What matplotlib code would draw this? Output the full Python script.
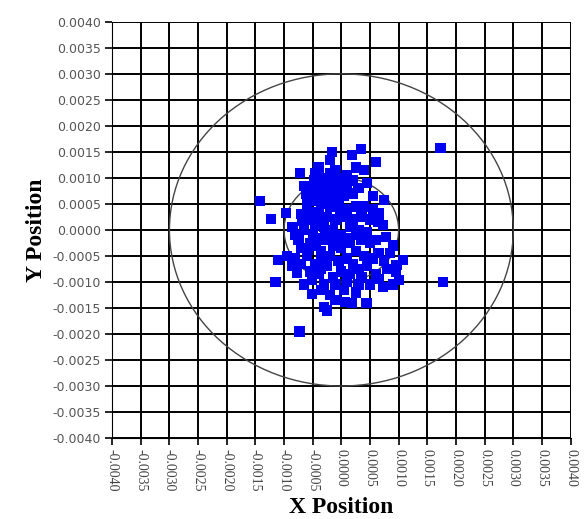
import numpy as np
import matplotlib
matplotlib.use("Agg")
import matplotlib.pyplot as plt
from matplotlib.patches import Circle

# shot positions, in units of 1e-4
x_pos = [-14.2, -12.3, -9.7, -11.1, -8.2, -7.7, -11.5, -5.1, -5.1, -3.0, -2.5, 0.6, 1.8, 4.4, -7.3,
         17.3, 17.7, 10.8, 9.6, 9.0, 10.0, 7.3, 7.8, 7.3, 6.6, 7.5, 6.0, 3.4, 1.8, -1.6,
         -2.0, -7.2, -4.6, 4.0, 9.0, 9.5, 5.0, 2.5, -1.0, -3.5, -6.5, -8.5, -9.5, -7.5, -8.5,
         -7.0, -6.0, -5.0, -3.5, -1.0, 1.0, 2.5, 4.5, 5.5, 6.5, 8.0, 6.0, 3.5, 1.0,
         -6.0, -5.0, -6.5, -5.5, -6.0, -4.5, -4.0, -2.5, -1.5, 0.0, 1.5, 3.0, 4.5, 5.5, 4.0,
         2.5, 1.0, -0.5, -2.0, -3.5, -4.5, -3.0, -1.5, 0.0, 1.5, 3.5, 5.0, 4.5, 3.0, 1.5,
         0.0, -1.5, -3.0, -4.5, -4.0, -2.5, -1.0, 0.5, 2.0, 3.5, 4.0, 2.5, 1.0, -0.5, -2.0,
         -3.5, -5.0, -4.0, -2.5, -1.0, 0.5, 2.0, 3.0, 1.0, -0.5, -2.0, -3.0, 0.0, 2.0, -5.5,
         -6.5, -2.0, -4.0, -3.0, -2.0, 0.5, 3.0, -5.5, -7.0, -7.0, -8.0, 6.5, 7.5, 8.5, 6.0,
         6.5, 5.0, 5.5, -0.5, -2.0, 1.0, 2.5, -3.5, -1.0, 2.0, -5.0,
         -6.2, -4.8, -3.2, -1.2, 0.8, -5.2, -3.8, -2.2, -0.2, -6.8, -4.2, -2.8, -5.8, -3.6]
y_pos = [5.5, 2.1, 3.3, -5.8, -5.4, -8.3, -10.0, -9.6, -12.3, -14.8, -15.5, -13.8, -14.0, -14.0, -19.5,
         15.8, -10.0, -5.8, -6.8, -3.0, -9.6, -11.0, -1.3, 1.0, 3.3, 5.8, 13.0, 15.6, 14.4, 15.0,
         13.5, 11.0, 11.0, 11.5, -10.5, -8.0, -10.5, -12.0, -13.5, -11.5, -10.5, -7.0, -5.0, -2.0, 0.5,
         3.0, 6.0, 8.5, 10.0, 11.5, 10.5, 12.0, 9.0, 6.5, -4.5, -7.5, -8.5, -9.0, -10.0,
         4.0, 2.0, 0.0, -2.5, -5.0, -6.5, -8.5, -7.0, -9.0, -8.0, -8.5, -7.5, -7.0, -5.5, -5.0,
         -4.0, -5.5, -6.0, -5.0, -4.0, -3.0, -2.0, -3.0, -3.5, -2.5, -2.0, -2.5, -0.5, 0.0, 0.5,
         -1.0, 0.0, 0.5, 1.0, 3.0, 2.5, 2.0, 2.5, 2.0, 2.5, 4.5, 4.5, 4.0, 4.5, 4.5,
         5.0, 5.5, 7.0, 6.5, 6.5, 6.5, 7.0, 8.0, 8.5, 8.5, 8.5, 9.5, 10.0, 9.5, 7.5,
         8.5, 11.0, 12.0, -10.5, -12.5, -11.5, -10.5, -8.0, -6.5, -3.5, -1.0, -9.5, -6.0, -4.5, -2.0,
         1.5, 2.0, 4.0, -2.0, -1.5, -1.5, -1.0, -7.5, -10.5, -6.5, -1.0,
         7.0, 9.5, 7.5, 9.8, 9.0, 3.5, 1.8, 5.8, 3.2, 1.8, -1.5, -0.5, -3.8, -6.0]

x_vals = np.array(x_pos) * 1e-4
y_vals = np.array(y_pos) * 1e-4

ticks = np.arange(-0.004, 0.00401, 0.0005)
tick_labels = ["%.4f" % t if abs(t) > 1e-9 else "0.0000" for t in ticks]

fig = plt.figure(figsize=(5.84, 5.19), dpi=100)
ax = fig.add_axes([0.192, 0.156, 0.785, 0.802])

ax.scatter(x_vals, y_vals, marker="s", s=55, color="#0000f0", edgecolors="none", zorder=4)

# rings
for r in [0.003, 0.001]:
    ax.add_patch(Circle((0, 0), r, fill=False, edgecolor="#444444", linewidth=1.0, zorder=3))

ax.set_xlim(-0.004, 0.004)
ax.set_ylim(-0.004, 0.004)
ax.set_xticks(ticks)
ax.set_yticks(ticks)
ax.set_xticklabels(tick_labels, rotation=270, fontsize=10,
                   family="Liberation Serif", color="#444444")
ax.set_yticklabels(tick_labels, fontsize=9, family="DejaVu Sans", color="#555555")
ax.grid(True, color="black", linewidth=1.4, zorder=1)
ax.set_axisbelow(True)
for s in ax.spines.values():
    s.set_visible(False)
ax.spines["left"].set_visible(True)
ax.spines["bottom"].set_visible(True)
ax.tick_params(direction="out", length=5, width=1.2, pad=3)

ax.set_xlabel("X Position", fontsize=17, fontweight="bold", family="Liberation Serif", labelpad=4)
ax.set_ylabel("Y Position", fontsize=17, fontweight="bold", family="Liberation Serif", labelpad=4)

fig.savefig("out.png", dpi=100)
